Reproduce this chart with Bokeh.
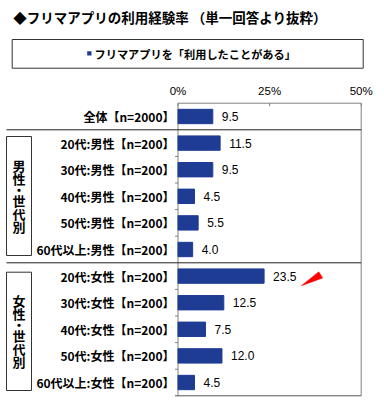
from bokeh.plotting import figure
from bokeh.models import Range1d
from bokeh.core.properties import value
from bokeh.embed import file_html
from bokeh.resources import INLINE

# ---------------- data ----------------
title_text = "◆フリマアプリの利用経験率 （単一回答より抜粋）"
legend_label = "フリマアプリを「利用したことがある」"
categories = [
    "全体【n=2000】",
    "20代:男性【n=200】",
    "30代:男性【n=200】",
    "40代:男性【n=200】",
    "50代:男性【n=200】",
    "60代以上:男性【n=200】",
    "20代:女性【n=200】",
    "30代:女性【n=200】",
    "40代:女性【n=200】",
    "50代:女性【n=200】",
    "60代以上:女性【n=200】",
]
values = [9.5, 11.5, 9.5, 4.5, 5.5, 4.0, 23.5, 12.5, 7.5, 12.0, 4.5]
group_names = ["男性・世代別", "女性・世代別"]
group_first_row = [1, 6]
group_last_row = [5, 10]
tick_values = [0, 25, 50]
tick_labels = ["0%", "25%", "50%"]
highlight_index = 6

# ---------------- layout helpers (pixels -> data units) ----------------
FW, FH = 376, 409
X0, PXU = 177.5, 3.664     # px of 0 %, px per %
Y0, PYU = 102.7, 26.6      # px of first row boundary, px per row


def X(px):
    return (px - X0) / PXU


def Y(py):
    return (py - Y0) / PYU


JP = value("Noto Sans CJK JP")
LAT = value("Liberation Sans")
BLUE = "#1e3c94"
AXIS = "#808080"

n = len(categories)
x_max = tick_values[-1]
rows = [i + 0.5 for i in range(n)]

p = figure(width=FW, height=FH, output_backend="svg", toolbar_location=None,
           x_range=Range1d(X(0), X(FW)), y_range=Range1d(Y(FH), Y(0)),
           x_axis_location=None, y_axis_location=None,
           min_border=0, outline_line_color=None)
p.grid.visible = False
p.background_fill_color = "white"

# title
p.text(x=[X(12.7)], y=[Y(16.5)], text=[title_text], text_font=JP,
       text_font_size="13.5px", text_font_style="bold", text_color="black",
       text_baseline="middle", text_align="left")

# legend box
p.quad(left=[X(11.7)], right=[X(362.7)], top=[Y(39)], bottom=[Y(67.7)],
       fill_color=None, line_color="#333333", line_width=1)
p.quad(left=[X(86.7)], right=[X(91)], top=[Y(50.7)], bottom=[Y(55)],
       fill_color=BLUE, line_color=None)
p.text(x=[X(94)], y=[Y(53)], text=[legend_label], text_font=JP,
       text_font_size="11.2px", text_font_style="bold", text_color="black",
       text_baseline="middle", text_align="left")

# frame lines
p.segment(x0=[0, 0, x_max], y0=[0, 0, 0], x1=[0, x_max, x_max], y1=[n, 0, n],
          line_color=AXIS, line_width=1)
p.segment(x0=[X(X0 - 3)], y0=[n], x1=[x_max], y1=[n], line_color="#555555", line_width=1)

# separators
p.segment(x0=[X(6)] * 2, y0=group_first_row, x1=[x_max] * 2, y1=group_first_row,
          line_color="#222222", line_width=1)

# category boundary ticks
tick_rows = [r for r in range(2, n) if r not in group_first_row]
p.segment(x0=[0] * len(tick_rows), y0=tick_rows, x1=[X(X0 - 3)] * len(tick_rows), y1=tick_rows,
          line_color=AXIS, line_width=1)
# x ticks (inward)
p.segment(x0=tick_values, y0=[0] * 3, x1=tick_values, y1=[Y(Y0 + 3)] * 3,
          line_color=AXIS, line_width=1)
p.text(x=tick_values, y=[Y(90)] * 3, text=tick_labels, text_font=LAT,
       text_font_size="11.5px", text_color="black", text_baseline="middle", text_align="center")

# bars
p.hbar(y=rows, left=0, right=values, height=0.54, fill_color=BLUE, line_color=BLUE)
p.text(x=[v + 9 / PXU for v in values], y=rows, text=[f"{v:.1f}" for v in values],
       text_font=LAT, text_font_size="12px", text_color="black",
       text_baseline="middle", text_align="left")

# category labels
p.text(x=[X(174)] * n, y=rows, text=categories, text_font=JP, text_font_size="12px",
       text_font_style="bold", text_color="black", text_baseline="middle", text_align="right")

# group boxes with vertical text
box_top_px = [136, 271.7]
box_bot_px = [255, 390]
for gi, name in enumerate(group_names):
    top = Y(box_top_px[gi])
    bot = Y(box_bot_px[gi])
    p.quad(left=[X(6)], right=[X(31)], top=[top], bottom=[bot],
           fill_color=None, line_color="#333333", line_width=1)
    chars = list(name)
    half = [4.5 if c == "・" else 6.5 for c in chars]
    pos = [0.0]
    for j in range(1, len(chars)):
        pos.append(pos[-1] + half[j - 1] + half[j])
    mid_px = (box_top_px[gi] + box_bot_px[gi]) / 2
    offs = mid_px - (pos[0] + pos[-1]) / 2
    ys = [Y(offs + q) for q in pos]
    p.text(x=[X(18.5)] * len(chars), y=ys, text=chars, text_font=JP, text_font_size="13px",
           text_font_style="bold", text_color="black", text_baseline="middle", text_align="center")

# red callout arrow next to the highlighted value
hv = values[highlight_index]
hy = rows[highlight_index]
ax = [hv + 10.2, hv + 14.9, hv + 16.0]
ay = [hy + 0.36, hy - 0.16, hy + 0.07]
p.patch(x=ax, y=ay, fill_color="#ff0000", line_color="#ff0000", line_width=0.5)

open("out.html", "w").write(file_html(p, INLINE))
